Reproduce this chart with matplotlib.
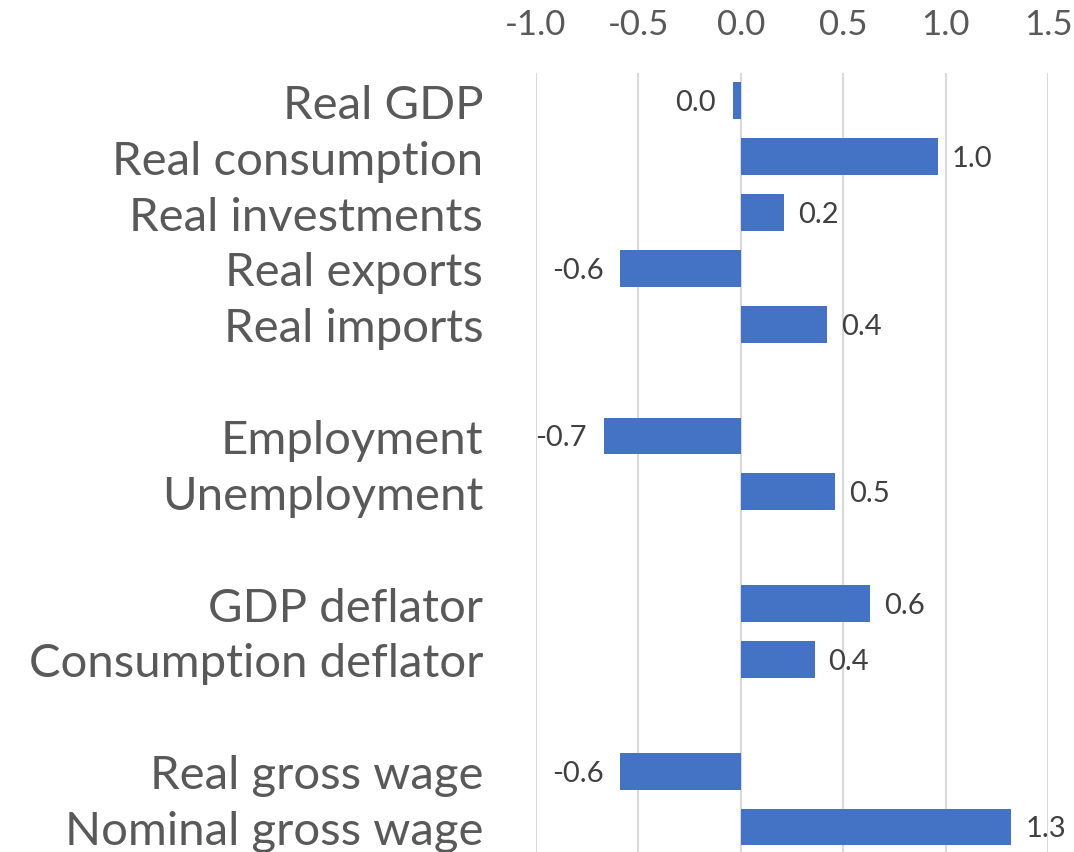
import matplotlib
matplotlib.use("Agg")
import matplotlib.pyplot as plt

# Deviation of each indicator, grouped by topic
categories = [
    "Real GDP", "Real consumption", "Real investments", "Real exports", "Real imports",
    "Employment", "Unemployment",
    "GDP deflator", "Consumption deflator",
    "Real gross wage", "Nominal gross wage",
]
values = [-0.04, 0.96, 0.21, -0.59, 0.42,
          -0.67, 0.46,
          0.63, 0.36,
          -0.59, 1.32]
group_sizes = [5, 2, 2, 2]
x_ticks = [-1.0, -0.5, 0.0, 0.5, 1.0, 1.5]

BAR_COLOR = "#4472C4"
TEXT_COLOR = "#595959"
GRID_COLOR = "#D9D9D9"

plt.rcParams["font.family"] = ["Lato", "DejaVu Sans"]

# one empty row between groups
positions = []
row = 0
for size in group_sizes:
    for _ in range(size):
        positions.append(row)
        row += 1
    row += 1

fig = plt.figure(figsize=(10.74, 8.53), dpi=100)
ax = fig.add_axes([0.499, -0.0035, 0.477, 0.9168])

ax.barh(positions, values, height=0.66, color=BAR_COLOR, zorder=3)

for y, v in zip(positions, values):
    label = f"{abs(v):.1f}" if round(v, 1) == 0 else f"{v:.1f}"
    if v >= 0:
        ax.annotate(label, (v, y), xytext=(10, -1), textcoords="offset points",
                    ha="left", va="center", fontsize=21, color="#404040")
    else:
        ax.annotate(label, (v, y), xytext=(-12, -1), textcoords="offset points",
                    ha="right", va="center", fontsize=21, color="#404040")

ax.set_xlim(-1.0, 1.5)
ax.set_ylim(positions[-1] + 0.5, -0.5)
ax.set_xticks(x_ticks)
ax.set_xticklabels([f"{t:.1f}" for t in x_ticks])
ax.set_yticks(positions)
ax.set_yticklabels(categories)

ax.xaxis.tick_top()
ax.tick_params(axis="x", length=0, pad=24, labelsize=25, colors=TEXT_COLOR)
ax.tick_params(axis="y", length=0, pad=38, labelsize=34, colors=TEXT_COLOR)

ax.grid(axis="x", color=GRID_COLOR, linewidth=1.5, zorder=0)
ax.grid(axis="y", visible=False)
for spine in ax.spines.values():
    spine.set_visible(False)

fig.savefig("out.png", dpi=100)
plt.close(fig)
